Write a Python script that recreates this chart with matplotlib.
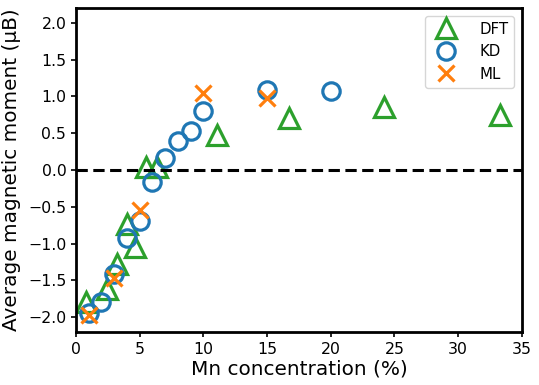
import matplotlib.pyplot as plt

# DFT reference values
dft_x = [0.78, 2.4, 3.2, 4.0, 4.65, 5.5, 6.35, 11.1, 16.7, 24.2, 33.3]
dft_y = [-1.80, -1.62, -1.28, -0.74, -1.05, 0.04, 0.04, 0.47, 0.70, 0.86, 0.75]

# KD values
kd_x = [1, 2, 3, 4, 5, 6, 7, 8, 9, 10, 15, 20]
kd_y = [-1.95, -1.80, -1.41, -0.92, -0.69, -0.17, 0.16, 0.39, 0.53, 0.80, 1.09, 1.07]

# ML values
ml_x = [1, 3, 5, 10, 15]
ml_y = [-1.97, -1.47, -0.55, 1.04, 0.98]

fig = plt.figure(figsize=(5.39, 3.85), dpi=100)
ax = fig.add_axes([0.141, 0.138, 0.827, 0.841])

ax.plot(dft_x, dft_y, '^', ms=14, mfc='none', mec='tab:green', mew=2.3, label='DFT')
ax.plot(kd_x, kd_y, 'o', ms=12.5, mfc='none', mec='tab:blue', mew=2.3, label='KD')
ax.plot(ml_x, ml_y, 'x', ms=12, mec='tab:orange', mew=2.3, label='ML')
ax.axhline(0, color='black', ls='--', lw=2.2, dashes=(3.7, 1.8))

ax.set_xlim(0, 35)
ax.set_ylim(-2.2, 2.2)
ax.set_xticks([0, 5, 10, 15, 20, 25, 30, 35])
ax.set_yticks([-2.0, -1.5, -1.0, -0.5, 0.0, 0.5, 1.0, 1.5, 2.0])
ax.tick_params(labelsize=11.3, width=1.2, length=3.5)
for s in ax.spines.values():
    s.set_linewidth(2)

ax.set_xlabel('Mn concentration (%)', fontsize=14.4, labelpad=2)
ax.set_ylabel('Average magnetic moment (μB)', fontsize=14.4, labelpad=5)
ax.legend(loc='upper right', fontsize=10.8, handletextpad=1.2)

fig.savefig('out.png', dpi=100)
